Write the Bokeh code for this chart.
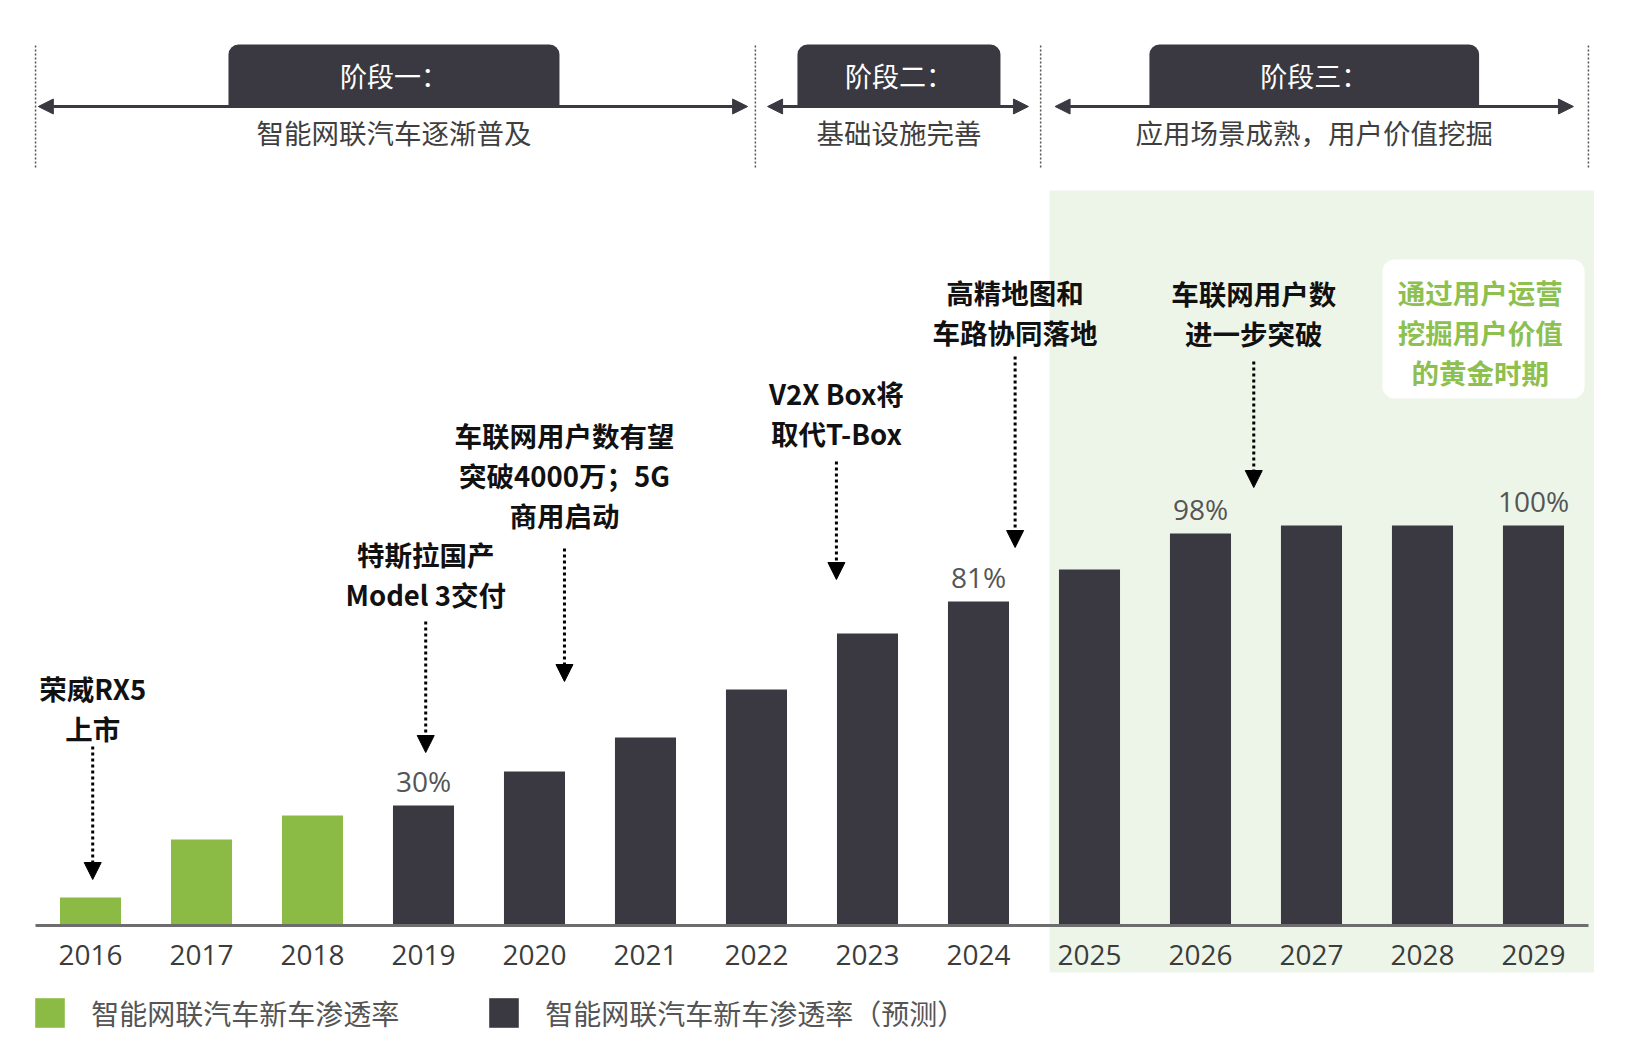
from bokeh.plotting import figure
from bokeh.models import (Range1d, LinearAxis, FixedTicker, Arrow, NormalHead,
                          Legend, LegendItem, ColumnDataSource)
from bokeh.core.properties import value
from bokeh.embed import file_html
from bokeh.resources import INLINE

# ---------------- data ----------------
years = ["2016", "2017", "2018", "2019", "2020", "2021", "2022",
         "2023", "2024", "2025", "2026", "2027", "2028", "2029"]
penetration = [7, 21.5, 27.5, 30, 38.5, 47, 59, 73, 81, 89, 98, 100, 100, 100]
n_actual = 3  # first three years are actual values (green)
series_names = ["智能网联汽车新车渗透率", "智能网联汽车新车渗透率（预测）"]

value_label_idx = [3, 8, 10, 13]
value_label_text = ["30%", "81%", "98%", "100%"]

phase_titles = ["阶段一：", "阶段二：", "阶段三："]
phase_descs = ["智能网联汽车逐渐普及", "基础设施完善", "应用场景成熟，用户价值挖掘"]
phase_bounds = [-0.495, 5.99, 8.56, 13.495]
phase_arrow_start = [-0.47, 6.10, 8.69]
phase_arrow_end = [5.92, 8.45, 13.36]
phase_tab_left = [1.243, 6.369, 9.54]
phase_tab_right = [4.225, 8.198, 12.51]

milestone_text = ["荣威RX5\n上市",
                  "特斯拉国产\nModel 3交付",
                  "车联网用户数有望\n突破4000万；5G\n商用启动",
                  "V2X Box将\n取代T-Box",
                  "高精地图和\n车路协同落地",
                  "车联网用户数\n进一步突破"]
milestone_x = [0.02, 3.02, 4.27, 6.72, 8.33, 10.48]
milestone_text_y = [54.4, 87.9, 112.75, 128.1, 153.5, 153.25]
milestone_arrow_y0 = [44.75, 76, 94.25, 116, 142.25, 141]
milestone_arrow_y1 = [11.5, 43.25, 61, 86.5, 94.5, 109.5]

highlight_text = "通过用户运营\n挖掘用户价值\n的黄金时期"
highlight_range = (8.64, 13.545)

# ---------------- styles ----------------
GREEN = "#8cbb45"
DARK = "#3a3941"
BG_GREEN = "#edf5e9"
CJK = "Noto Sans CJK SC"
LATIN = "Open Sans"

p = figure(width=1626, height=1042,
           x_range=Range1d(-0.8108, 13.838), y_range=Range1d(-29.25, 231.25),
           x_axis_type=None, y_axis_type=None,
           toolbar_location=None, output_backend="svg",
           min_border=0, outline_line_color=None)

# highlighted period background
p.quad(left=[highlight_range[0]], right=[highlight_range[1]],
       top=[183.75], bottom=[-11.75], fill_color=BG_GREEN, line_color=None)

# white note box
p.quad(left=[11.64], right=[13.46], top=[166.5], bottom=[131.75],
       fill_color="white", line_color=None, border_radius=12)
p.text(x=[12.52], y=[148.5], text=[highlight_text], text_font=value(CJK),
       text_font_size="27.5px", text_font_style="bold", text_color="#8dc04e",
       text_align="center", text_baseline="middle", text_line_height=1.0)

# bars
idx = list(range(len(years)))
src_act = ColumnDataSource(dict(x=idx[:n_actual], top=penetration[:n_actual]))
src_fc = ColumnDataSource(dict(x=idx[n_actual:], top=penetration[n_actual:]))
r_act = p.vbar(x="x", top="top", width=0.55, bottom=0, source=src_act,
               fill_color=GREEN, line_color=None)
r_fc = p.vbar(x="x", top="top", width=0.55, bottom=0, source=src_fc,
              fill_color=DARK, line_color=None)

# value labels
p.text(x=value_label_idx, y=[penetration[i] for i in value_label_idx],
       text=value_label_text, text_font=value(LATIN), text_font_size="28px",
       text_color="#555555", text_align="center", text_baseline="middle",
       y_offset=-25)

# x axis
xaxis = LinearAxis(ticker=FixedTicker(ticks=idx),
                   major_label_overrides={i: y for i, y in zip(idx, years)},
                   fixed_location=0, bounds=(-0.495, 13.495),
                   axis_line_color="#6d6d6d", axis_line_width=3,
                   major_tick_line_color=None, minor_tick_line_color=None,
                   major_label_text_font=LATIN, major_label_text_font_size="28px",
                   major_label_text_color="#3c3c3c", major_label_standoff=13)
p.add_layout(xaxis, "below")

# milestone annotations
p.text(x=milestone_x, y=milestone_text_y, text=milestone_text,
       text_font=value(CJK), text_font_size="27.5px", text_font_style="bold",
       text_color="#111111", text_align="center", text_baseline="middle",
       text_line_height=1.0)
for mx, y0, y1 in zip(milestone_x, milestone_arrow_y0, milestone_arrow_y1):
    p.add_layout(Arrow(x_start=mx, y_start=y0, x_end=mx, y_end=y1,
                       line_color="black", line_width=3, line_dash="3 3",
                       end=NormalHead(size=17, fill_color="black",
                                      line_color="black", line_width=1)))

# phase header
p.segment(x0=phase_bounds, y0=[189.5] * 4, x1=phase_bounds, y1=[220.5] * 4,
          line_color="#555555", line_width=1.5, line_dash="2 2")
p.quad(left=phase_tab_left, right=phase_tab_right, top=[220.25] * 3,
       bottom=[204.75] * 3, fill_color=DARK, line_color=None,
       border_radius=(10, 10, 0, 0))
for xs, xe in zip(phase_arrow_start, phase_arrow_end):
    p.add_layout(Arrow(x_start=xs, y_start=204.75, x_end=xe, y_end=204.75,
                       line_color=DARK, line_width=3,
                       start=NormalHead(size=15, fill_color=DARK, line_color=DARK),
                       end=NormalHead(size=15, fill_color=DARK, line_color=DARK)))
tab_centers = [(a + b) / 2 for a, b in zip(phase_tab_left, phase_tab_right)]
p.text(x=tab_centers, y=[212.5] * 3, text=phase_titles, text_font=value(CJK),
       text_font_size="27px", text_color="white", text_align="center",
       text_baseline="middle")
p.text(x=tab_centers, y=[198.3] * 3, text=phase_descs, text_font=value(CJK),
       text_font_size="27.5px", text_color="#3f3f3f", text_align="center",
       text_baseline="middle")

# legend
legend = Legend(items=[LegendItem(label=series_names[0], renderers=[r_act]),
                       LegendItem(label=series_names[1], renderers=[r_fc])],
                orientation="horizontal", location=(31.3, 9.25),
                padding=0, margin=0, spacing=0,
                glyph_width=37, glyph_height=37, label_height=37,
                label_width=394, label_standoff=23,
                label_text_font=CJK, label_text_font_size="28px",
                label_text_color="#555555",
                border_line_color=None, background_fill_alpha=0)
p.add_layout(legend, "center")

open("out.html", "w").write(file_html(p, INLINE))
